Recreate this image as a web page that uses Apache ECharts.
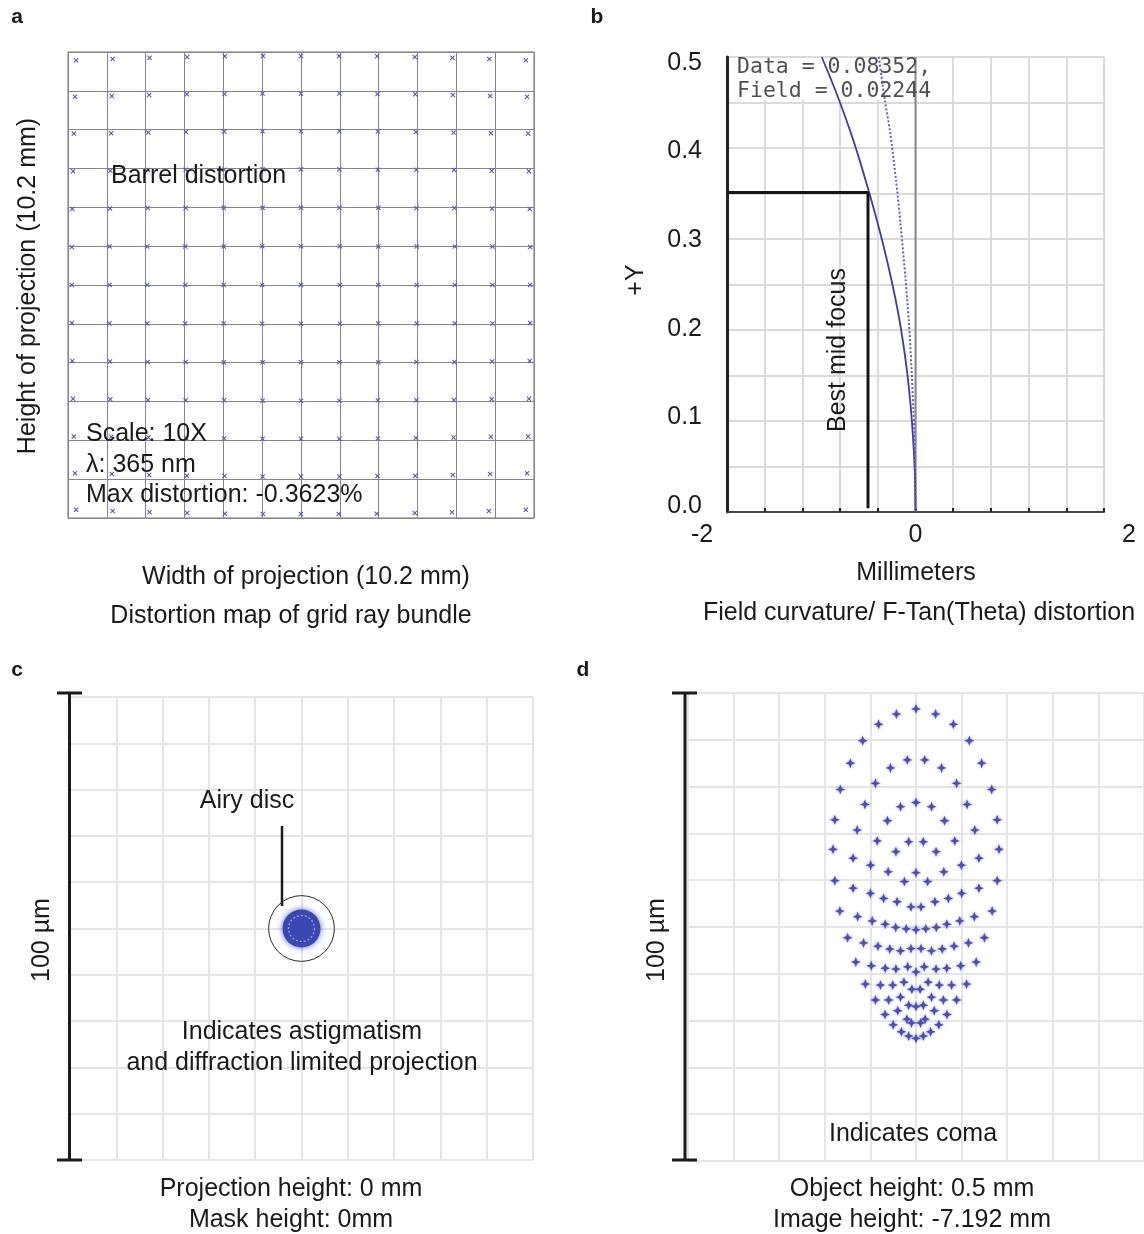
<!DOCTYPE html>
<html>
<head>
<meta charset="utf-8">
<script src="https://cdn.jsdelivr.net/npm/echarts@6/dist/echarts.min.js"></script>
<style>
html, body { margin: 0; padding: 0; background: #fff; }
#main { width: 1144px; height: 1234px; }
</style>
</head>
<body>
<div id="main"></div>
<script>
// panel a: distorted grid marks, in grid cells (x from left, y from top)
const aMarkX = [
  [0.21, 1.15, 2.10, 3.07, 4.04, 5.02, 6.00, 6.98, 7.96, 8.93, 9.90, 10.85, 11.79],
  [0.18, 1.13, 2.09, 3.06, 4.03, 5.01, 6.00, 6.99, 7.97, 8.94, 9.91, 10.87, 11.82],
  [0.15, 1.11, 2.07, 3.04, 4.02, 5.01, 6.00, 6.99, 7.98, 8.96, 9.93, 10.89, 11.85],
  [0.13, 1.09, 2.06, 3.03, 4.02, 5.01, 6.00, 6.99, 7.98, 8.97, 9.94, 10.91, 11.87],
  [0.11, 1.08, 2.05, 3.03, 4.01, 5.01, 6.00, 6.99, 7.99, 8.97, 9.95, 10.92, 11.89],
  [0.10, 1.07, 2.04, 3.02, 4.01, 5.00, 6.00, 7.00, 7.99, 8.98, 9.96, 10.93, 11.90],
  [0.10, 1.07, 2.04, 3.02, 4.01, 5.00, 6.00, 7.00, 7.99, 8.98, 9.96, 10.93, 11.90],
  [0.10, 1.07, 2.04, 3.02, 4.01, 5.00, 6.00, 7.00, 7.99, 8.98, 9.96, 10.93, 11.90],
  [0.11, 1.08, 2.05, 3.03, 4.01, 5.01, 6.00, 6.99, 7.99, 8.97, 9.95, 10.92, 11.89],
  [0.13, 1.09, 2.06, 3.03, 4.02, 5.01, 6.00, 6.99, 7.98, 8.97, 9.94, 10.91, 11.87],
  [0.15, 1.11, 2.07, 3.04, 4.02, 5.01, 6.00, 6.99, 7.98, 8.96, 9.93, 10.89, 11.85],
  [0.18, 1.13, 2.09, 3.06, 4.03, 5.01, 6.00, 6.99, 7.97, 8.94, 9.91, 10.87, 11.82],
  [0.21, 1.15, 2.10, 3.07, 4.04, 5.02, 6.00, 6.97, 7.95, 8.93, 9.89, 10.84, 11.79]
];
const aMarkY = [
  [0.21, 0.18, 0.15, 0.13, 0.11, 0.10, 0.10, 0.10, 0.11, 0.13, 0.15, 0.18, 0.21],
  [1.15, 1.13, 1.11, 1.09, 1.08, 1.07, 1.07, 1.07, 1.08, 1.09, 1.11, 1.13, 1.15],
  [2.10, 2.09, 2.07, 2.06, 2.05, 2.04, 2.04, 2.04, 2.05, 2.06, 2.07, 2.09, 2.10],
  [3.07, 3.06, 3.04, 3.03, 3.03, 3.02, 3.02, 3.02, 3.03, 3.03, 3.04, 3.06, 3.07],
  [4.04, 4.03, 4.02, 4.02, 4.01, 4.01, 4.01, 4.01, 4.01, 4.02, 4.02, 4.03, 4.04],
  [5.02, 5.01, 5.01, 5.01, 5.01, 5.00, 5.00, 5.00, 5.01, 5.01, 5.01, 5.01, 5.02],
  [6.00, 6.00, 6.00, 6.00, 6.00, 6.00, 6.00, 6.00, 6.00, 6.00, 6.00, 6.00, 6.00],
  [6.98, 6.99, 6.99, 6.99, 6.99, 7.00, 7.00, 7.00, 6.99, 6.99, 6.99, 6.99, 6.98],
  [7.96, 7.97, 7.98, 7.98, 7.99, 7.99, 7.99, 7.99, 7.99, 7.98, 7.98, 7.97, 7.96],
  [8.93, 8.94, 8.96, 8.97, 8.97, 8.98, 8.98, 8.98, 8.97, 8.97, 8.96, 8.94, 8.93],
  [9.90, 9.91, 9.93, 9.94, 9.95, 9.96, 9.96, 9.96, 9.95, 9.94, 9.93, 9.91, 9.90],
  [10.85, 10.87, 10.89, 10.91, 10.92, 10.93, 10.93, 10.93, 10.92, 10.91, 10.89, 10.87, 10.85],
  [11.79, 11.82, 11.85, 11.87, 11.89, 11.90, 11.90, 11.90, 11.89, 11.87, 11.85, 11.82, 11.79]
];

// panel b: field curvature (mm vs +Y)
const bTanX = [-0.995, -0.83, -0.655, -0.50, -0.355, -0.255, -0.17, -0.095, -0.05, -0.02, -0.006, 0];
const bTanY = [0.5, 0.458, 0.407, 0.354, 0.299, 0.255, 0.211, 0.159, 0.115, 0.071, 0.04, 0];
const bSagX = [-0.39, -0.324, -0.27, -0.207, -0.16, -0.105, -0.072, -0.043, -0.024, -0.012, -0.004, 0];
const bSagY = [0.5, 0.452, 0.418, 0.365, 0.318, 0.255, 0.211, 0.159, 0.115, 0.086, 0.04, 0];
const bFocusX = [-2, -0.504, -0.504];
const bFocusY = [0.351, 0.351, 0.004];
const bXLabels = ['-2', '0', '2'];
const bYLabels = ['0.0', '0.1', '0.2', '0.3', '0.4', '0.5'];

// panel c: on-axis spot (µm): x, y, airy radius, spot radius, inner ring radius
const cSpot = [[0, 0, 7.1, 4.1, 2.8]];

// panel d: off-axis spot diagram (µm)
const dSpot = [
  [0, 46.6], [-4.3, 45.5], [4.3, 45.5], [-8.2, 43.3], [8.2, 43.3], [-11.7, 39.8], [11.7, 39.8],
  [-14.4, 35.0], [14.4, 35.0], [-16.6, 29.4], [16.6, 29.4], [-17.8, 22.9], [17.8, 22.9],
  [-18.2, 16.6], [18.2, 16.6], [-17.8, 9.9], [17.8, 9.9], [-16.7, 3.4], [16.7, 3.4],
  [-15.0, -2.3], [15.0, -2.3], [-13.2, -7.5], [13.2, -7.5], [-11.1, -12.2], [11.1, -12.2],
  [-8.9, -15.6], [8.9, -15.6], [-6.8, -18.7], [6.8, -18.7], [-5.0, -20.9], [5.0, -20.9],
  [-3.2, -22.4], [3.2, -22.4], [-1.6, -23.3], [1.6, -23.3], [0, -23.8],
  [-1.9, 35.7], [1.9, 35.7], [-5.6, 34.0], [5.6, 34.0], [-8.9, 30.7], [8.9, 30.7],
  [-11.2, 26.2], [11.2, 26.2], [-12.9, 20.7], [12.9, 20.7], [-13.8, 14.7], [13.8, 14.7],
  [-13.8, 8.3], [13.8, 8.3], [-12.8, 2.2], [12.8, 2.2], [-11.5, -3.4], [11.5, -3.4],
  [-9.8, -8.3], [9.8, -8.3], [-7.8, -12.4], [7.8, -12.4], [-6.0, -15.6], [6.0, -15.6],
  [-4.0, -17.9], [4.0, -17.9], [-2.0, -19.7], [2.0, -19.7],
  [0, 26.6], [-3.4, 25.7], [3.4, 25.7], [-6.25, 22.7], [6.25, 22.7], [-8.5, 18.4], [8.5, 18.4],
  [-9.95, 13.2], [9.95, 13.2], [-10.0, 7.2], [10.0, 7.2], [-9.6, 1.3], [9.6, 1.3],
  [-8.35, -4.1], [8.35, -4.1], [-6.75, -8.8], [6.75, -8.8], [-5.1, -12.4], [5.1, -12.4],
  [-3.4, -15.0], [3.4, -15.0], [-1.0, -20.5], [1.0, -20.5],
  [-1.6, 18.2], [1.6, 18.2], [-4.4, 16.1], [4.4, 16.1], [-6.1, 11.8], [6.1, 11.8], [0, 11.6],
  [-7.1, 6.1], [7.1, 6.1], [-6.75, 0.6], [6.75, 0.6], [-5.75, -4.7], [5.75, -4.7],
  [-4.4, -9.0], [4.4, -9.0], [-2.65, -11.8], [2.65, -11.8], [-1.6, -16.7], [1.6, -16.7], [0, -17.0],
  [-2.55, 9.7], [2.55, 9.7], [-4.15, 5.4], [4.15, 5.4], [-4.45, -0.1], [4.45, -0.1],
  [-3.4, -5.1], [3.4, -5.1], [-1.8, -8.5], [1.8, -8.5], [-0.9, -13.3], [0.9, -13.3],
  [-1.1, 4.3], [1.1, 4.3], [-2.15, -0.4], [2.15, -0.4], [0, -0.6], [-1.1, -4.6], [1.1, -4.6], [0, -9.6]
];

const SANS = '"Liberation Sans", Arial, sans-serif';
const MONO = '"DejaVu Sans Mono", monospace';
const INK = '#1a1a1a';
const FS = 25;

function zip(xs, ys) {
  return xs.map((x, i) => [x, ys[i]]);
}

let aMarks = [];
for (let r = 0; r < aMarkX.length; r++) {
  aMarks = aMarks.concat(zip(aMarkX[r], aMarkY[r]));
}

function text(x, y, s, opt) {
  opt = opt || {};
  return {
    type: 'text', x: x, y: y, z: 10,
    rotation: opt.rot || 0,
    style: {
      text: s,
      font: (opt.font || FS + 'px ' + SANS),
      fill: opt.color || INK,
      textAlign: opt.align || 'center',
      textVerticalAlign: 'middle'
    }
  };
}
function seg(x1, y1, x2, y2, w) {
  return { type: 'line', z: 10, shape: { x1: x1, y1: y1, x2: x2, y2: y2 }, style: { stroke: '#1a1a1a', lineWidth: w || 3 } };
}

const hidden = { axisLine: { show: false }, axisTick: { show: false }, axisLabel: { show: false } };
const lightGrid = { show: true, lineStyle: { color: '#e4e4e9', width: 2 } };

const chart = echarts.init(document.getElementById('main'), null, { renderer: 'canvas' });
chart.setOption({
  backgroundColor: '#fff',
  animation: false,
  grid: [
    { left: 68, top: 52, width: 466, height: 466, show: true, borderColor: '#6e6e6e', borderWidth: 1, backgroundColor: 'transparent' },
    { left: 727, top: 57, width: 377, height: 455 },
    { left: 702, top: 63, width: 427, height: 443 },
    { left: 70, top: 697, width: 463, height: 463 },
    { left: 688, top: 693, width: 468, height: 468 }
  ],
  xAxis: [
    Object.assign({ gridIndex: 0, type: 'value', min: 0, max: 12, interval: 1,
      splitLine: { show: true, lineStyle: { color: '#868686', width: 1 } } }, hidden),
    { gridIndex: 1, type: 'value', min: -2, max: 2, interval: 0.4,
      axisLine: { show: true, onZero: false, lineStyle: { color: '#444', width: 2 } },
      axisTick: { show: true, inside: true, length: 4, lineStyle: { color: '#222', width: 2 } },
      axisLabel: { show: false },
      splitLine: { show: true, lineStyle: { color: '#dadada', width: 2 } } },
    { gridIndex: 2, type: 'value', min: -2, max: 2, interval: 2,
      axisLine: { show: false }, axisTick: { show: false }, splitLine: { show: false },
      axisLabel: { show: true, margin: 17, fontSize: FS, fontFamily: SANS, color: INK,
        formatter: v => bXLabels[Math.round((v + 2) / 2)] } },
    Object.assign({ gridIndex: 3, type: 'value', min: -50, max: 50, interval: 10, splitLine: lightGrid }, hidden),
    Object.assign({ gridIndex: 4, type: 'value', min: -50, max: 50, interval: 10, splitLine: lightGrid }, hidden)
  ],
  yAxis: [
    Object.assign({ gridIndex: 0, type: 'value', min: 0, max: 12, interval: 1, inverse: true,
      splitLine: { show: true, lineStyle: { color: '#868686', width: 1 } } }, hidden),
    { gridIndex: 1, type: 'value', min: 0, max: 0.5, interval: 0.05,
      axisLine: { show: true, onZero: false, lineStyle: { color: '#222', width: 3 } },
      axisTick: { show: false }, axisLabel: { show: false },
      splitLine: { show: true, lineStyle: { color: '#dadada', width: 2 } } },
    { gridIndex: 2, type: 'value', min: 0, max: 0.5, interval: 0.1,
      axisLine: { show: false }, axisTick: { show: false }, splitLine: { show: false },
      axisLabel: { show: true, margin: 0, fontSize: FS, fontFamily: SANS, color: INK,
        formatter: v => bYLabels[Math.round(v * 10)] } },
    Object.assign({ gridIndex: 3, type: 'value', min: -50, max: 50, interval: 10, splitLine: lightGrid }, hidden),
    Object.assign({ gridIndex: 4, type: 'value', min: -50, max: 50, interval: 10, splitLine: lightGrid }, hidden)
  ],
  series: [
    { // a: grid ray marks
      type: 'scatter', xAxisIndex: 0, yAxisIndex: 0, data: aMarks,
      symbol: 'path://M0,1.5L1.5,0L5,3.5L8.5,0L10,1.5L6.5,5L10,8.5L8.5,10L5,6.5L1.5,10L0,8.5L3.5,5Z',
      symbolSize: 5, itemStyle: { color: '#5357c2', opacity: 1 }, silent: true
    },
    { // b: zero line
      type: 'line', xAxisIndex: 1, yAxisIndex: 1, data: [[0, 0], [0, 0.5]],
      symbol: 'none', lineStyle: { color: '#8a8a8a', width: 2 }, silent: true
    },
    { // b: tangential
      type: 'line', xAxisIndex: 1, yAxisIndex: 1, data: zip(bTanX, bTanY), smooth: 0.3,
      symbol: 'none', lineStyle: { color: '#3a3ea6', width: 1.8 }, silent: true
    },
    { // b: sagittal
      type: 'line', xAxisIndex: 1, yAxisIndex: 1, data: zip(bSagX, bSagY), smooth: 0.3,
      symbol: 'none', lineStyle: { color: '#5c61c8', width: 2, type: 'dotted' }, silent: true
    },
    { // b: best mid focus marker
      type: 'line', xAxisIndex: 1, yAxisIndex: 1, data: zip(bFocusX, bFocusY),
      symbol: 'none', lineStyle: { color: '#151515', width: 3 }, z: 3, silent: true
    },
    { // c: airy disc, spot and inner ring
      type: 'custom', xAxisIndex: 3, yAxisIndex: 3, data: cSpot, silent: true,
      renderItem: (params, api) => {
        const c = api.coord([api.value(0), api.value(1)]);
        const airy = api.size([api.value(2), 0])[0];
        const spot = api.size([api.value(3), 0])[0];
        const ring = api.size([api.value(4), 0])[0];
        return {
          type: 'group',
          children: [
            { type: 'circle', shape: { cx: c[0], cy: c[1], r: airy },
              style: { fill: 'none', stroke: '#2a2a2a', lineWidth: 1 } },
            { type: 'circle', shape: { cx: c[0], cy: c[1], r: spot },
              style: { fill: '#3b47b1', shadowBlur: 6, shadowColor: 'rgba(59,71,177,0.8)' } },
            { type: 'circle', shape: { cx: c[0], cy: c[1], r: ring },
              style: { fill: 'none', stroke: 'rgba(175,183,232,0.8)', lineWidth: 1.3, lineDash: [2, 2] } }
          ]
        };
      }
    },
    { // d: coma spot diagram
      type: 'scatter', xAxisIndex: 4, yAxisIndex: 4, data: dSpot,
      symbol: 'path://M5,0L6.4,3.6L10,5L6.4,6.4L5,10L3.6,6.4L0,5L3.6,3.6Z',
      symbolSize: 10, itemStyle: { color: '#4a4fb2', opacity: 1, shadowBlur: 3, shadowColor: 'rgba(74,79,178,0.6)' }, silent: true
    }
  ],
  graphic: [
    // panel a
    text(17, 17, 'a', { font: 'bold 21px ' + SANS }),
    text(111, 176, 'Barrel distortion', { align: 'left' }),
    text(86, 434, 'Scale: 10X', { align: 'left' }),
    text(86, 465, 'λ: 365 nm', { align: 'left' }),
    text(86, 495, 'Max distortion: -0.3623%', { align: 'left' }),
    text(28, 286, 'Height of projection (10.2 mm)', { rot: Math.PI / 2 }),
    text(306, 577, 'Width of projection (10.2 mm)'),
    text(291, 616, 'Distortion map of grid ray bundle'),
    // panel b
    text(597, 17, 'b', { font: 'bold 21px ' + SANS }),
    { type: 'rect', z: 1, shape: { x: 729, y: 58, width: 205, height: 42 }, style: { fill: '#fff' } },
    text(737, 67, 'Data = 0.08352,', { align: 'left', font: '21.5px ' + MONO, color: '#505050' }),
    text(737, 91, 'Field = 0.02244', { align: 'left', font: '21.5px ' + MONO, color: '#505050' }),
    text(636, 280, '+Y', { rot: Math.PI / 2 }),
    text(838, 350, 'Best mid focus', { rot: Math.PI / 2 }),
    text(916, 573, 'Millimeters'),
    text(919, 613, 'Field curvature/ F-Tan(Theta) distortion'),
    // panel c
    text(17, 670, 'c', { font: 'bold 21px ' + SANS }),
    seg(69.5, 693, 69.5, 1160), seg(57, 693, 82, 693), seg(57, 1160, 82, 1160),
    text(42, 940, '100 µm', { rot: Math.PI / 2 }),
    text(247, 801, 'Airy disc'),
    seg(282, 826, 282, 906, 2.5),
    text(302, 1032, 'Indicates astigmatism'),
    text(302, 1063, 'and diffraction limited projection'),
    text(291, 1189, 'Projection height: 0 mm'),
    text(291, 1220, 'Mask height: 0mm'),
    // panel d
    text(583, 670, 'd', { font: 'bold 21px ' + SANS }),
    seg(685, 693, 685, 1160), seg(672, 693, 697, 693), seg(672, 1160, 697, 1160),
    text(657, 940, '100 µm', { rot: Math.PI / 2 }),
    text(913, 1134, 'Indicates coma'),
    text(912, 1189, 'Object height: 0.5 mm'),
    text(912, 1220, 'Image height: -7.192 mm')
  ]
});
</script>
</body>
</html>
